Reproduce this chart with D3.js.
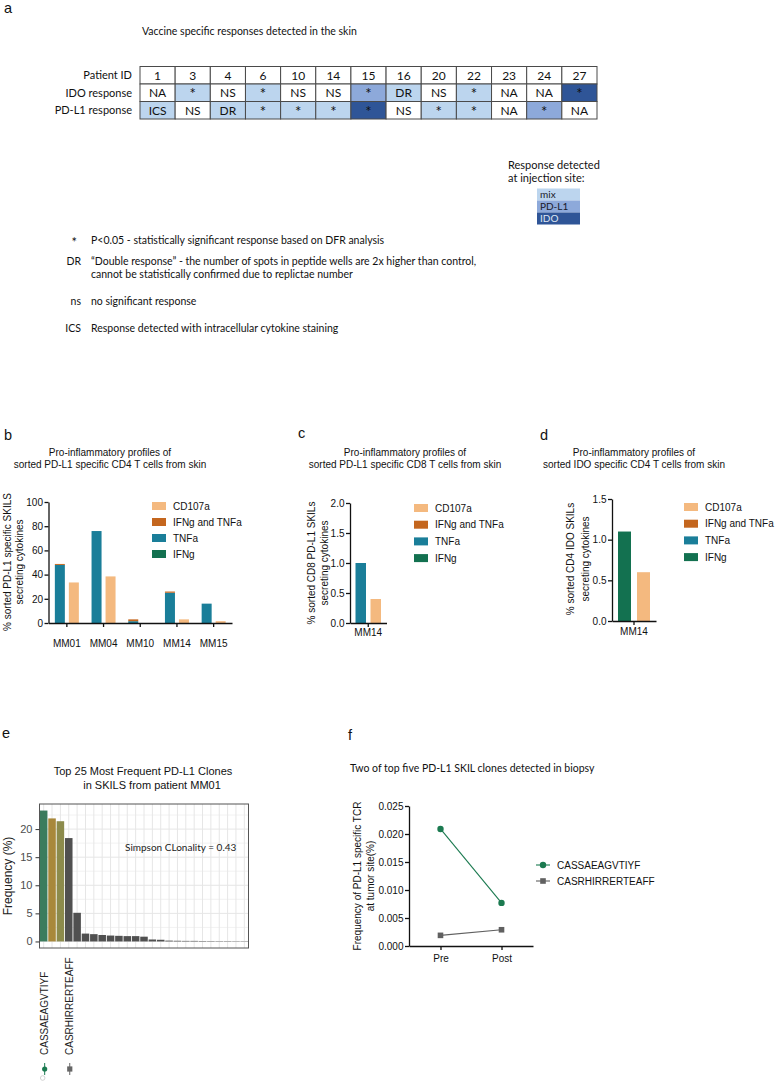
<!DOCTYPE html>
<html><head><meta charset="utf-8">
<script src="https://cdn.jsdelivr.net/npm/d3@7"></script>
<style>body{margin:0;background:#fff}svg{display:block}</style>
</head><body>
<svg width="775" height="1082"></svg>
<script>
// ---------------- DATA ----------------
// Panel a
const patientIds = ["1","3","4","6","10","14","15","16","20","22","23","24","27"];
const rowLabels = ["Patient ID","IDO response","PD-L1 response"];
const idoResponse = ["NA","*","NS","*","NS","NS","*","DR","NS","*","NA","NA","*"];
const pdl1Response = ["ICS","NS","DR","*","*","*","*","NS","*","*","NA","*","NA"];
const idoShade = ["none","mix","none","mix","none","none","PD-L1","mix","none","mix","none","none","IDO"];
const pdl1Shade = ["mix","none","mix","mix","mix","mix","IDO","none","mix","mix","none","PD-L1","none"];
const shadeLevels = ["mix","PD-L1","IDO"];
const footSymbols = ["*","DR","ns","ICS"];
const footTexts = [
  ["P<0.05 - statistically significant response based on DFR analysis"],
  ["\u201CDouble response\u201D - the number of spots in peptide wells are 2x higher than control,",
   "cannot be statistically confirmed due to replictae number"],
  ["no significant response"],
  ["Response detected with intracellular cytokine staining"]
];
// Panels b, c, d
const cytoKeys = ["CD107a","IFNg and TNFa","TNFa","IFNg"];
const bCategories = ["MM01","MM04","MM10","MM14","MM15"];
const bIFNg = [0,0,0,0,0];
const bTNFa = [48,76,1.5,25,16];
const bIFNgTNFa = [0.8,0,1.5,1,0];
const bCD107a = [33.5,38.5,0,3,1.5];
const cCategories = ["MM14"];
const cIFNg = [0];
const cTNFa = [1.0];
const cIFNgTNFa = [0];
const cCD107a = [0.4];
const dCategories = ["MM14"];
const dIFNg = [1.1];
const dTNFa = [0];
const dIFNgTNFa = [0];
const dCD107a = [0.6];
const bTicks = [0,20,40,60,80,100];
const cTicks = [0,0.5,1,1.5,2];
const dTicks = [0,0.5,1,1.5];
// Panel e
const eRank = [1,2,3,4,5,6,7,8,9,10,11,12,13,14,15,16,17,18,19,20,21,22,23,24,25];
const eFreq = [23.3,21.9,21.4,18.4,5.1,1.4,1.3,1.15,1.05,1.0,0.95,0.95,0.85,0.35,0.3,0.15,0.12,0.1,0.1,0.08,0.07,0.06,0.06,0.05,0.05];
const eLabels = ["CASSAEAGVTIYF","","","CASRHIRRERTEAFF","","","","","","","","","","","","","","","","","","","","",""];
const eTicks = [0,5,10,15,20];
const eMinor = [2.5,7.5,12.5,17.5,22.5];
// Panel f
const fTime = ["Pre","Post"];
const fCloneNames = ["CASSAEAGVTIYF","CASRHIRRERTEAFF"];
const fClone1 = [0.0209,0.0077];
const fClone2 = [0.0019,0.0029];
const fTicks = [0,0.005,0.01,0.015,0.02,0.025];

// ---------------- STYLE ----------------
const svg = d3.select("svg");
const ARIAL = "'Liberation Sans', Arial, Helvetica, sans-serif";
const HUM = "Lato, 'Open Sans', sans-serif";
const cytoColor = d3.scaleOrdinal().domain(cytoKeys).range(["#f4b97f","#c4661e","#1a7e99","#137150"]);

function txt(g, s, x, y, o = {}) {
  return g.append("text").attr("x", x).attr("y", y).text(s)
    .attr("font-family", o.ff || ARIAL).attr("font-size", o.fs || 10)
    .attr("text-anchor", o.anchor || "start").attr("fill", o.fill || "#111");
}
function rotText(g, s, cx, cy, o = {}) {
  return g.append("text").attr("transform", `translate(${cx},${cy}) rotate(-90)`).text(s)
    .attr("font-family", o.ff || ARIAL).attr("font-size", o.fs || 10)
    .attr("text-anchor", o.anchor || "middle").attr("fill", o.fill || "#111");
}

// panel letters
[["a",4,13],["b",4,440],["c",298,438],["d",540,440],["e",2,738],["f",348,740]].forEach(([t,x,y]) =>
  txt(svg, t, x, y, {fs: 14.5}));

// ---------------- PANEL a ----------------
const ga = svg.append("g");
txt(ga, "Vaccine specific responses detected in the skin", 142, 35, {ff: HUM, fs: 10.5});
const colX = d3.scaleBand().domain(patientIds).range([140, 597]);
const rowY = d3.scaleBand().domain(rowLabels).range([66.5, 119]);
const shadeColor = d3.scaleOrdinal().domain(["none", ...shadeLevels]).range(["#ffffff","#bcd5ee","#8da9da","#2f5597"]);
const tableRows = [
  {label: rowLabels[0], vals: patientIds, shades: patientIds.map(() => "none")},
  {label: rowLabels[1], vals: idoResponse, shades: idoShade},
  {label: rowLabels[2], vals: pdl1Response, shades: pdl1Shade}
];
const cells = tableRows.flatMap(r => r.vals.map((v, i) => ({row: r.label, col: patientIds[i], v, s: r.shades[i]})));
ga.selectAll("rect.cell").data(cells).join("rect").attr("class","cell")
  .attr("x", d => colX(d.col)).attr("y", d => rowY(d.row))
  .attr("width", colX.bandwidth()).attr("height", rowY.bandwidth())
  .attr("fill", d => shadeColor(d.s)).attr("stroke", "#4a4a4a").attr("stroke-width", 1);
ga.selectAll("text.cell").data(cells).join("text").attr("class","cell")
  .attr("x", d => colX(d.col) + colX.bandwidth()/2)
  .attr("y", d => rowY(d.row) + rowY.bandwidth()/2 + (d.v === "*" ? 6.5 : 4.3))
  .attr("text-anchor","middle").attr("font-family", HUM)
  .attr("font-size", d => d.v === "*" ? 15 : 12).attr("fill","#111")
  .text(d => d.v);
ga.selectAll("text.rowlab").data(rowLabels).join("text").attr("class","rowlab")
  .attr("x", 132).attr("y", d => rowY(d) + rowY.bandwidth()/2 + 4)
  .attr("text-anchor","end").attr("font-family", HUM).attr("font-size", 11).attr("fill","#111")
  .text(d => d);
// legend
txt(ga, "Response detected", 508, 169, {ff: HUM, fs: 11});
txt(ga, "at injection site:", 508, 182, {ff: HUM, fs: 11});
const legY = d3.scaleBand().domain(shadeLevels).range([188.5, 224.5]);
ga.selectAll("rect.leg").data(shadeLevels).join("rect").attr("class","leg")
  .attr("x", 537).attr("y", d => legY(d)).attr("width", 43).attr("height", legY.bandwidth())
  .attr("fill", d => shadeColor(d));
ga.selectAll("text.leg").data(shadeLevels).join("text").attr("class","leg")
  .attr("x", 540).attr("y", d => legY(d) + legY.bandwidth()/2 + 3.5)
  .attr("font-family", HUM).attr("font-size", 10)
  .attr("fill", d => d === "IDO" ? "#dfe6f3" : "#1a1a2a").text(d => d);
// footnotes
const footY = [244, 265, 305, 332];
footSymbols.forEach((s, i) => {
  txt(ga, s, s === "*" ? 77 : 81, footY[i] + (s === "*" ? 3 : 0), {ff: HUM, fs: s === "*" ? 13 : 10.5, anchor: "end"});
  footTexts[i].forEach((line, j) => txt(ga, line, 91, footY[i] + j * 13, {ff: HUM, fs: 10.5}));
});

// ---------------- PANELS b, c, d ----------------
function cytoPanel(cfg) {
  const g = svg.append("g");
  const x = d3.scaleBand().domain(cfg.cats).range(cfg.xRange);
  const y = d3.scaleLinear().domain([0, cfg.yMax]).range(cfg.yRange);
  const rows = cfg.cats.map((c, i) => ({cat: c, "IFNg": cfg.ifng[i], "TNFa": cfg.tnfa[i], "IFNg and TNFa": cfg.both[i]}));
  const stacked = d3.stack().keys(["IFNg","TNFa","IFNg and TNFa"])(rows);
  stacked.forEach(layer => {
    g.selectAll(null).data(layer).join("rect")
      .attr("x", d => x(d.data.cat) + x.bandwidth()/2 - cfg.gap/2 - cfg.barW)
      .attr("y", d => y(d[1])).attr("width", cfg.barW)
      .attr("height", d => Math.max(0, y(d[0]) - y(d[1])))
      .attr("fill", cytoColor(layer.key));
  });
  g.selectAll(null).data(cfg.cats.map((c, i) => ({cat: c, v: cfg.cd107[i]}))).join("rect")
    .attr("x", d => x(d.cat) + x.bandwidth()/2 + cfg.gap/2)
    .attr("y", d => y(d.v)).attr("width", cfg.barW)
    .attr("height", d => y(0) - y(d.v)).attr("fill", cytoColor("CD107a"));
  const ya = g.append("g").attr("transform", `translate(${cfg.xRange[0]},0)`)
    .call(d3.axisLeft(y).tickValues(cfg.ticks).tickFormat(cfg.fmt).tickSize(4).tickSizeOuter(0).tickPadding(1.5));
  const xa = g.append("g").attr("transform", `translate(0,${cfg.yRange[0]})`)
    .call(d3.axisBottom(x).tickSize(4).tickSizeOuter(0).tickPadding(cfg.xPad));
  [ya, xa].forEach(a => {
    a.selectAll("path,line").attr("stroke", "#111").attr("stroke-width", 1.3);
    a.selectAll("text").attr("font-family", ARIAL).attr("font-size", 10).attr("fill", "#111");
  });
  cfg.title.forEach((t, i) => txt(g, t, cfg.titleX, 456 + i * 12, {anchor: "middle"}));
  cfg.ylab.forEach((t, i) => rotText(g, t, cfg.ylabX[i], cfg.ylabY));
  cytoKeys.forEach((k, i) => {
    const yy = cfg.legY + i * cfg.legStep;
    g.append("rect").attr("x", cfg.legX).attr("y", yy - 4).attr("width", 14).attr("height", 8).attr("fill", cytoColor(k));
    txt(g, k, cfg.legX + 21, yy + 3.6);
  });
}
cytoPanel({cats: bCategories, ifng: bIFNg, tnfa: bTNFa, both: bIFNgTNFa, cd107: bCD107a,
  xRange: [48.5, 232], yRange: [623, 502], yMax: 100, ticks: bTicks, fmt: d3.format("d"),
  barW: 10, gap: 4, xPad: 13,
  title: ["Pro-inflammatory profiles of", "sorted PD-L1 specific CD4 T cells from skin"], titleX: 110,
  ylab: ["% sorted PD-L1 specific SKILS", "secreting cytokines"], ylabX: [10.5, 22.5], ylabY: 562,
  legX: 152, legY: 506, legStep: 16});
cytoPanel({cats: cCategories, ifng: cIFNg, tnfa: cTNFa, both: cIFNgTNFa, cd107: cCD107a,
  xRange: [350, 386.5], yRange: [623, 503], yMax: 2, ticks: cTicks, fmt: d3.format(".1f"),
  barW: 10.5, gap: 4.5, xPad: 2,
  title: ["Pro-inflammatory profiles of", "sorted PD-L1 specific CD8 T cells from skin"], titleX: 405,
  ylab: ["% sorted CD8 PD-L1 SKILs", "secreting cytokines"], ylabX: [315, 327.5], ylabY: 563,
  legX: 414, legY: 508, legStep: 16.7});
cytoPanel({cats: dCategories, ifng: dIFNg, tnfa: dTNFa, both: dIFNgTNFa, cd107: dCD107a,
  xRange: [612, 656], yRange: [621, 499], yMax: 1.5, ticks: dTicks, fmt: d3.format(".1f"),
  barW: 13, gap: 6, xPad: 3,
  title: ["Pro-inflammatory profiles of", "sorted IDO specific CD4 T cells from skin"], titleX: 634,
  ylab: ["% sorted CD4 IDO SKILs", "secreting cytokines"], ylabX: [574, 589], ylabY: 559,
  legX: 684, legY: 507, legStep: 16.7});

// ---------------- PANEL e ----------------
const ge = svg.append("g");
const ex = d3.scaleBand().domain(eRank).range([39.5, 248.5]).paddingInner(0.1).paddingOuter(0.05);
const ey = d3.scaleLinear().domain([-1.165, 24.465]).range([948, 804]);
const eColor = i => ["#3b7c5d","#a8883b","#8c8b4c"][i] || "#505050";
ge.append("rect").attr("x", 39.5).attr("y", 804).attr("width", 209).attr("height", 144).attr("fill", "#fff");
ge.selectAll("line.minor").data(eMinor).join("line").attr("class","minor")
  .attr("x1", 39.5).attr("x2", 248.5).attr("y1", d => ey(d)).attr("y2", d => ey(d))
  .attr("stroke", "#ececec").attr("stroke-width", 0.7);
ge.selectAll("line.major").data(eTicks).join("line").attr("class","major")
  .attr("x1", 39.5).attr("x2", 248.5).attr("y1", d => ey(d)).attr("y2", d => ey(d))
  .attr("stroke", "#e6e6e6").attr("stroke-width", 1);
ge.selectAll("line.vmajor").data(eRank).join("line").attr("class","vmajor")
  .attr("x1", d => ex(d) + ex.bandwidth()/2).attr("x2", d => ex(d) + ex.bandwidth()/2)
  .attr("y1", 804).attr("y2", 948).attr("stroke", "#e6e6e6").attr("stroke-width", 1);
ge.selectAll("rect.bar").data(eFreq).join("rect").attr("class","bar")
  .attr("x", (d, i) => ex(eRank[i])).attr("width", ex.bandwidth())
  .attr("y", d => ey(d)).attr("height", d => ey(0) - ey(d))
  .attr("fill", (d, i) => eColor(i));
ge.append("rect").attr("x", 39.5).attr("y", 804).attr("width", 209).attr("height", 144)
  .attr("fill", "none").attr("stroke", "#555").attr("stroke-width", 1);
const eya = ge.append("g").attr("transform", "translate(39.5,0)")
  .call(d3.axisLeft(ey).tickValues(eTicks).tickSize(4).tickPadding(3));
eya.select(".domain").remove();
eya.selectAll("line").attr("stroke", "#333");
eya.selectAll("text").attr("font-family", ARIAL).attr("font-size", 11).attr("fill", "#4d4d4d");
txt(ge, "Top 25 Most Frequent PD-L1 Clones", 143, 775, {fs: 11, anchor: "middle"});
txt(ge, "in SKILS from patient MM01", 152, 789, {fs: 11, anchor: "middle"});
rotText(ge, "Frequency (%)", 11.5, 876, {fs: 12, fill: "#222"});
txt(ge, "Simpson CLonality = 0.43", 125, 851, {ff: HUM, fs: 10, fill: "#222"});
eLabels.forEach((l, i) => {
  if (!l) return;
  rotText(ge, l, ex(eRank[i]) + ex.bandwidth()/2 + 4.5, 1055, {fs: 10, anchor: "start", fill: "#222"});
});
// small glyphs under labels
const cx1 = ex(eRank[0]) + ex.bandwidth()/2 + 1, cx4 = ex(eRank[3]) + ex.bandwidth()/2 + 1;
ge.append("line").attr("x1", cx1).attr("x2", cx1).attr("y1", 1063).attr("y2", 1075).attr("stroke", "#1b7a50").attr("stroke-width", 1);
ge.append("circle").attr("cx", cx1).attr("cy", 1069).attr("r", 2.6).attr("fill", "#1b7a50");
ge.append("circle").attr("cx", cx1 - 2).attr("cy", 1078).attr("r", 2.3).attr("fill", "none").attr("stroke", "#c8c8c8").attr("stroke-width", 0.8);
ge.append("line").attr("x1", cx4).attr("x2", cx4).attr("y1", 1063).attr("y2", 1075).attr("stroke", "#666").attr("stroke-width", 1);
ge.append("rect").attr("x", cx4 - 2.6).attr("y", 1066.4).attr("width", 5.2).attr("height", 5.2).attr("fill", "#666");

// ---------------- PANEL f ----------------
const gf = svg.append("g");
txt(gf, "Two of top five PD-L1 SKIL clones detected in biopsy", 350, 772, {ff: HUM, fs: 10.5});
const fx = d3.scalePoint().domain(fTime).range([409, 533]).padding(0.516);
const fy = d3.scaleLinear().domain([0, 0.025]).range([946, 806]);
const fya = gf.append("g").attr("transform", "translate(409,0)")
  .call(d3.axisLeft(fy).tickValues(fTicks).tickFormat(d3.format(".3f")).tickSize(4).tickSizeOuter(0).tickPadding(1.5));
const fxa = gf.append("g").attr("transform", "translate(0,946)")
  .call(d3.axisBottom(fx).tickSize(4).tickSizeOuter(0).tickPadding(5));
[fya, fxa].forEach(a => {
  a.selectAll("path,line").attr("stroke", "#111").attr("stroke-width", 1.3);
  a.selectAll("text").attr("font-family", ARIAL).attr("font-size", 10).attr("fill", "#111");
});
const fSeries = [
  {name: fCloneNames[0], vals: fClone1, color: "#1b7a50", shape: "circle"},
  {name: fCloneNames[1], vals: fClone2, color: "#606060", shape: "square"}
];
const fLine = d3.line().x((d, i) => fx(fTime[i])).y(d => fy(d));
function marker(g, shape, x, y, color) {
  if (shape === "circle") g.append("circle").attr("cx", x).attr("cy", y).attr("r", 3.2).attr("fill", color);
  else g.append("rect").attr("x", x - 2.8).attr("y", y - 2.8).attr("width", 5.6).attr("height", 5.6).attr("fill", color);
}
fSeries.forEach((s, k) => {
  gf.append("path").attr("d", fLine(s.vals)).attr("fill", "none").attr("stroke", s.color).attr("stroke-width", 1.1);
  s.vals.forEach((v, i) => marker(gf, s.shape, fx(fTime[i]), fy(v), s.color));
  const ly = 865 + k * 16;
  gf.append("line").attr("x1", 536).attr("x2", 550).attr("y1", ly).attr("y2", ly).attr("stroke", s.color).attr("stroke-width", 1.1);
  marker(gf, s.shape, 543, ly, s.color);
  txt(gf, s.name, 557, ly + 3.6, {fs: 10});
});
rotText(gf, "Frequency of PD-L1 specific TCR", 360.5, 876);
rotText(gf, "at tumor site(%)", 373.5, 876);
</script>
</body></html>
